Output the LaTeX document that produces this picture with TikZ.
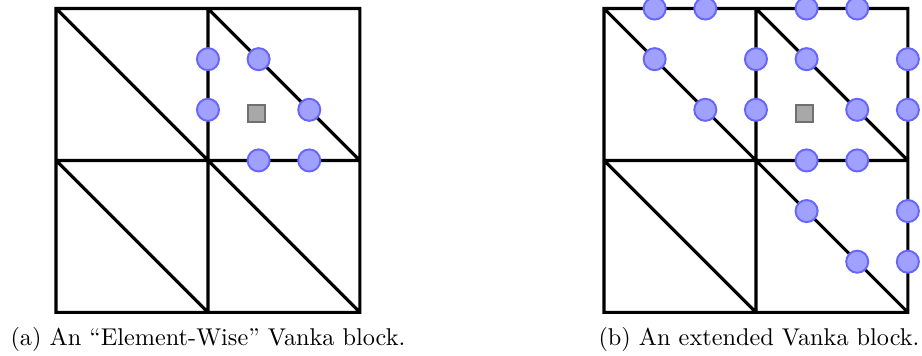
\documentclass[tikz,border=0pt]{standalone}
\usepackage{amsmath,amssymb}
\usetikzlibrary{positioning,calc}
\definecolor{dofblue}{RGB}{160,160,255}
\definecolor{dofedge}{RGB}{102,102,250}
\definecolor{pgray}{RGB}{168,168,168}
\definecolor{pedge}{RGB}{112,112,112}

\begin{document}
\begin{tikzpicture}[x=2.2cm, y=2.2cm,
  mesh/.style={line width=1.3pt},
  udof/.style={circle, draw=dofedge, fill=dofblue, line width=0.8pt, minimum size=9.1pt, inner sep=0pt},
  pdof/.style={rectangle, draw=pedge, fill=pgray, line width=0.8pt, minimum size=7pt, inner sep=0pt},
  subcap/.style={anchor=base}]
\useasboundingbox (-0.369,-0.283) rectangle (5.70,2.056);
% the two 2x2 meshes
\foreach \ox in {0,3.607} {
  \draw[mesh, shift={(\ox,0)}] (0,0) rectangle (2,2) (1,0) -- (1,2) (0,1) -- (2,1)
        (0,2) -- (2,0) (0,1) -- (1,0) (1,2) -- (2,1);
}
% (a) element-wise block
\foreach \p [count=\i] in {(1,5/3),(1,4/3),(4/3,5/3),(5/3,4/3),(4/3,1),(5/3,1)}
  \node[udof] (ua\i) at \p {};
\node[pdof] (pa) at (1.32,1.31) {};
\node[subcap] (capa) at (1,-0.217) {(a) An ``Element-Wise'' Vanka block.};
% (b) extended block
\begin{scope}[shift={(3.607,0)}]
\foreach \p [count=\i] in {(1/3,2),(2/3,2),(4/3,2),(5/3,2),
    (1/3,5/3),(1,5/3),(4/3,5/3),(2,5/3),
    (2/3,4/3),(1,4/3),(5/3,4/3),(2,4/3),
    (4/3,1),(5/3,1),(4/3,2/3),(2,2/3),(5/3,1/3),(2,1/3)}
  \node[udof] (ub\i) at \p {};
\node[pdof] (pb) at (1.32,1.31) {};
\node[subcap] (capb) at (1.02,-0.217) {(b) An extended Vanka block.};
\end{scope}
\end{tikzpicture}
\end{document}
